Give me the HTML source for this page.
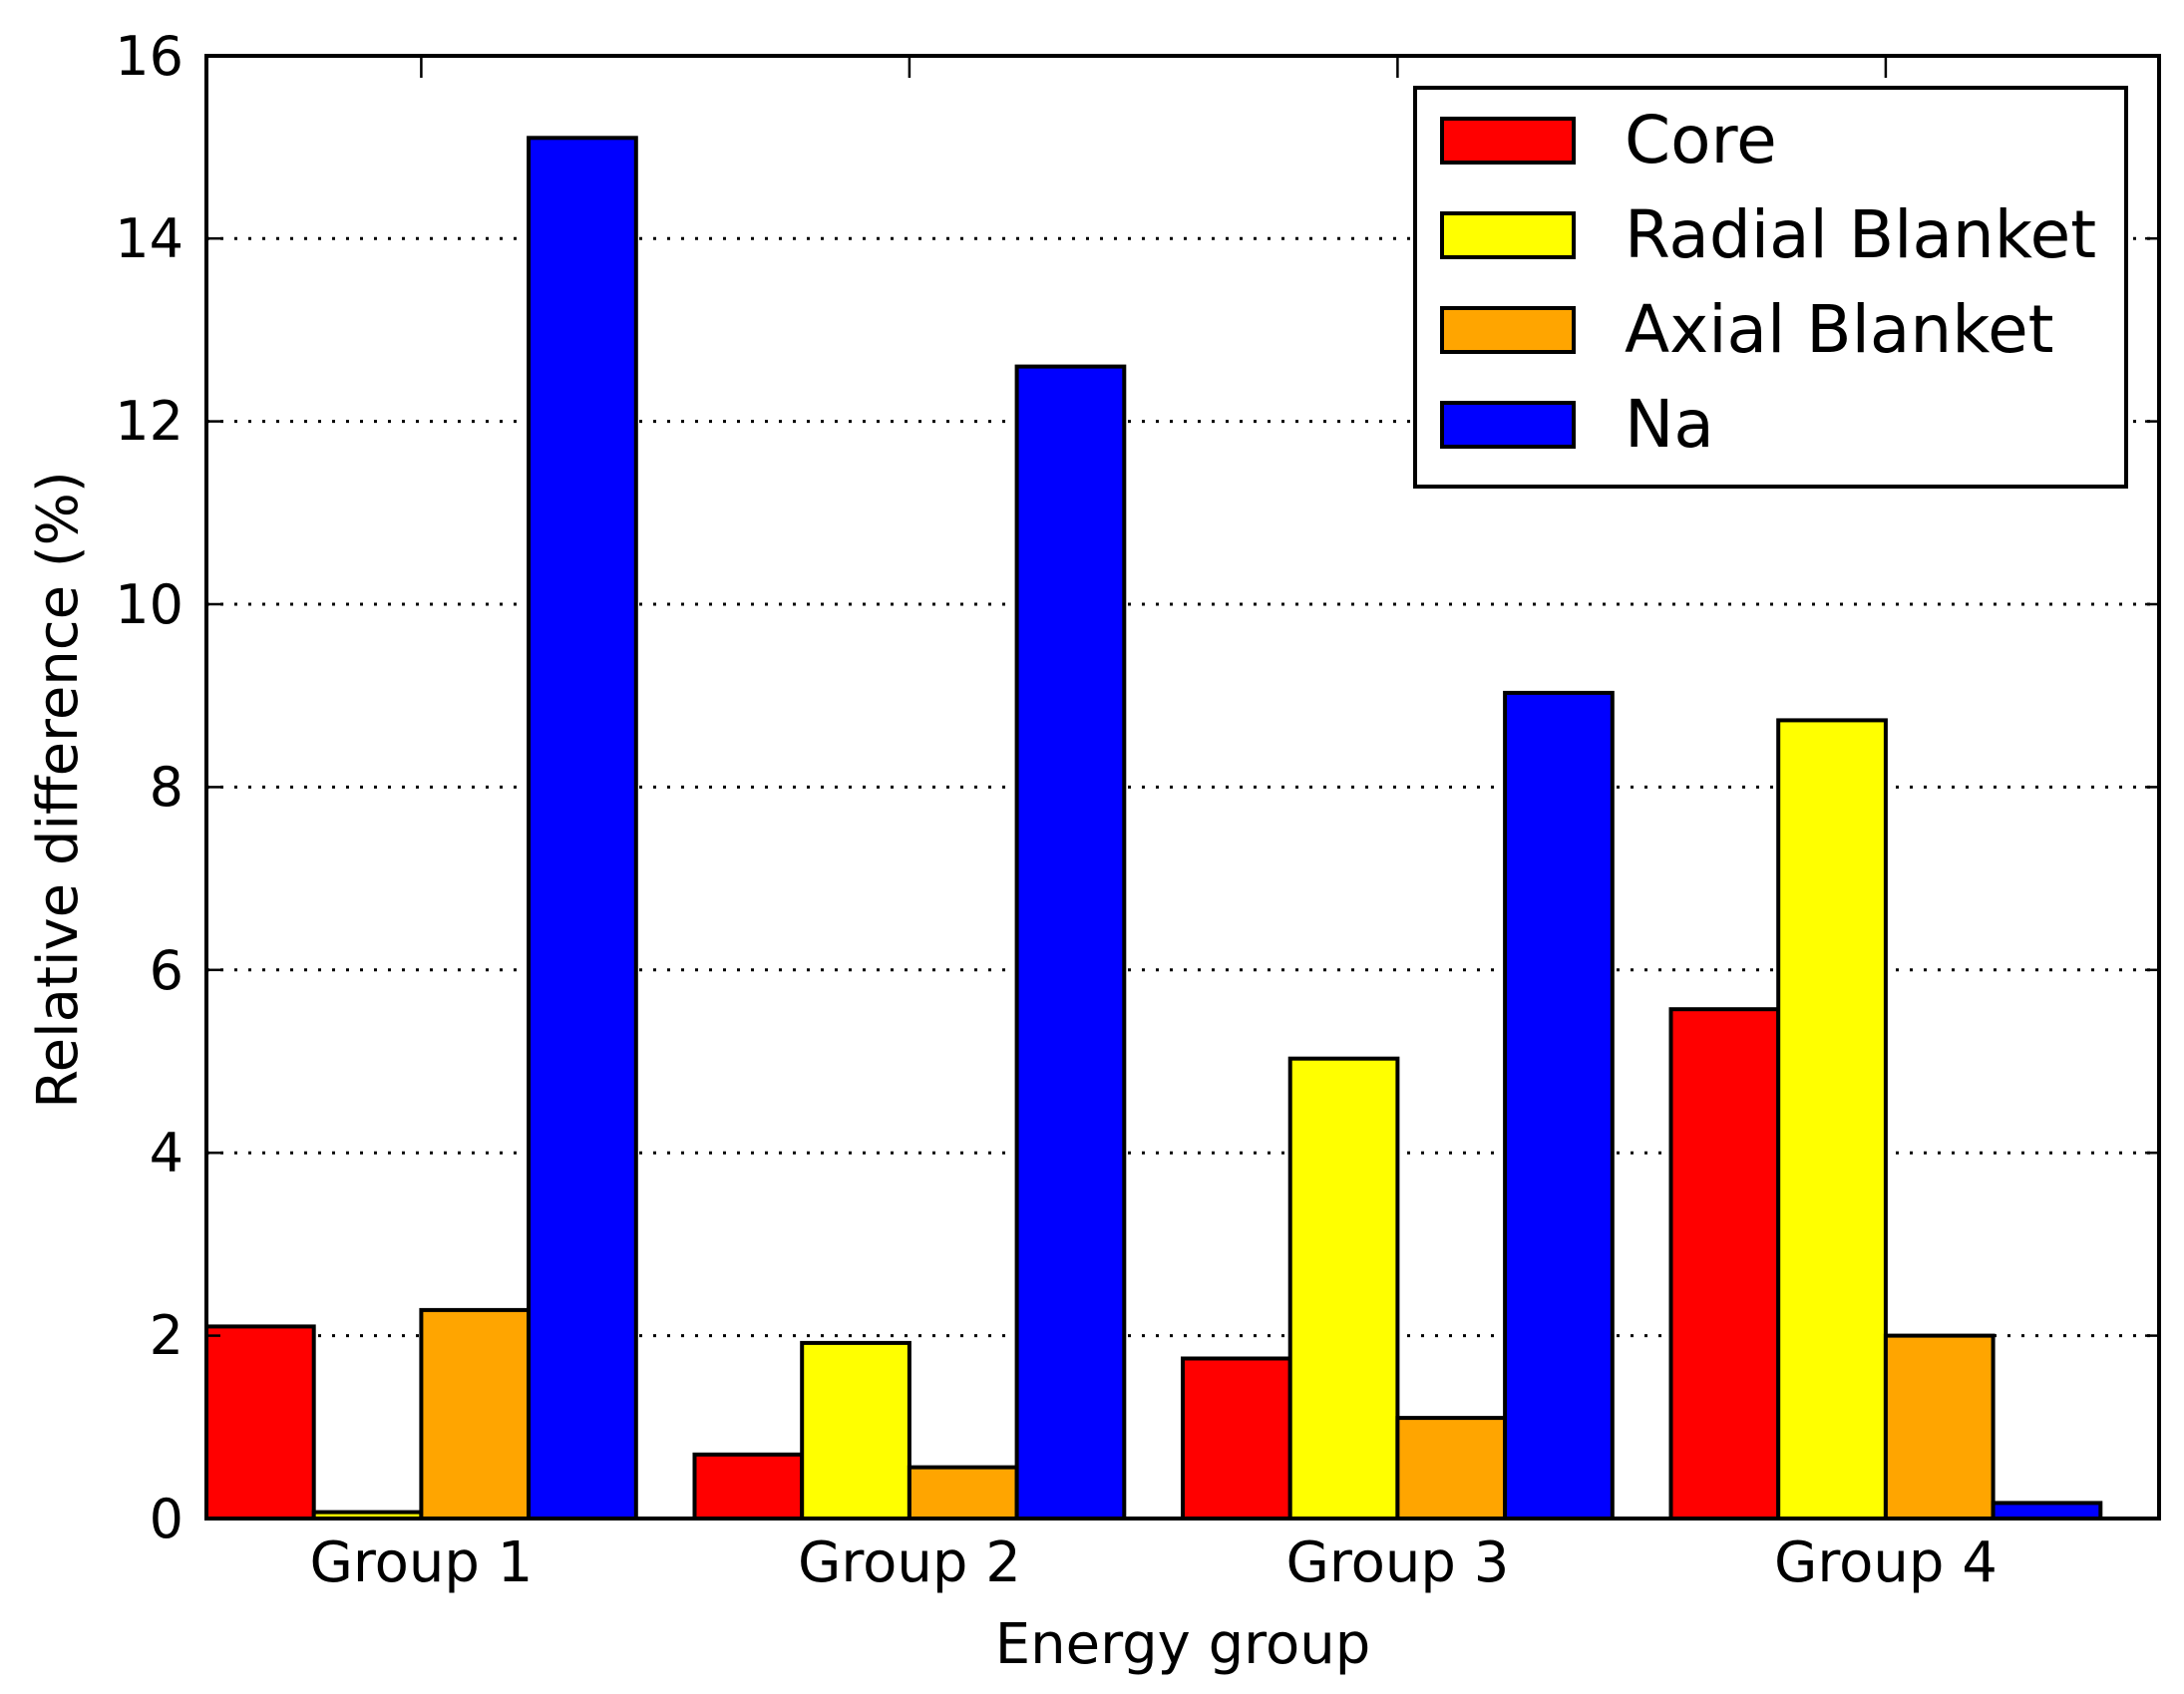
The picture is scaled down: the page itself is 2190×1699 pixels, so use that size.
<!DOCTYPE html>
<html><head><style>html,body{margin:0;padding:0;background:#fff}svg{display:block}</style></head>
<body>
<svg width="2190" height="1699" viewBox="0 0 2190 1699" xmlns="http://www.w3.org/2000/svg" font-family="'DejaVu Sans','Liberation Sans',sans-serif">
<rect width="2190" height="1699" fill="#fff"/>
<g stroke="#000" stroke-width="3" stroke-dasharray="3,11">
<line x1="207" x2="2165" y1="1339.6" y2="1339.6"/>
<line x1="207" x2="2165" y1="1156.2" y2="1156.2"/>
<line x1="207" x2="2165" y1="972.8" y2="972.8"/>
<line x1="207" x2="2165" y1="789.4" y2="789.4"/>
<line x1="207" x2="2165" y1="606" y2="606"/>
<line x1="207" x2="2165" y1="422.6" y2="422.6"/>
<line x1="207" x2="2165" y1="239.2" y2="239.2"/>
</g>
<g stroke="#000" stroke-width="4">
<rect x="207" y="1330.4" width="107.7" height="192.6" fill="#ff0000"/>
<rect x="314.7" y="1516.6" width="107.7" height="6.4" fill="#ffff00"/>
<rect x="422.4" y="1313.9" width="107.7" height="209.1" fill="#ffa500"/>
<rect x="530.1" y="138.3" width="107.7" height="1384.7" fill="#0000ff"/>
<rect x="696.5" y="1458.8" width="107.7" height="64.2" fill="#ff0000"/>
<rect x="804.2" y="1346.9" width="107.7" height="176.1" fill="#ffff00"/>
<rect x="911.9" y="1471.6" width="107.7" height="51.4" fill="#ffa500"/>
<rect x="1019.6" y="367.6" width="107.7" height="1155.4" fill="#0000ff"/>
<rect x="1186" y="1362.5" width="107.7" height="160.5" fill="#ff0000"/>
<rect x="1293.7" y="1061.7" width="107.7" height="461.3" fill="#ffff00"/>
<rect x="1401.4" y="1422.1" width="107.7" height="100.9" fill="#ffa500"/>
<rect x="1509.1" y="694.9" width="107.7" height="828.1" fill="#0000ff"/>
<rect x="1675.5" y="1012.2" width="107.7" height="510.8" fill="#ff0000"/>
<rect x="1783.2" y="722.4" width="107.7" height="800.6" fill="#ffff00"/>
<rect x="1890.9" y="1339.6" width="107.7" height="183.4" fill="#ffa500"/>
<rect x="1998.6" y="1507.4" width="107.7" height="15.6" fill="#0000ff"/>
</g>
<rect x="207" y="56" width="1958" height="1467" fill="none" stroke="#000" stroke-width="4"/>
<g stroke="#000" stroke-width="2.5">
<line x1="207" x2="221" y1="1339.6" y2="1339.6"/><line x1="2165" x2="2151" y1="1339.6" y2="1339.6"/>
<line x1="207" x2="221" y1="1156.2" y2="1156.2"/><line x1="2165" x2="2151" y1="1156.2" y2="1156.2"/>
<line x1="207" x2="221" y1="972.8" y2="972.8"/><line x1="2165" x2="2151" y1="972.8" y2="972.8"/>
<line x1="207" x2="221" y1="789.4" y2="789.4"/><line x1="2165" x2="2151" y1="789.4" y2="789.4"/>
<line x1="207" x2="221" y1="606" y2="606"/><line x1="2165" x2="2151" y1="606" y2="606"/>
<line x1="207" x2="221" y1="422.6" y2="422.6"/><line x1="2165" x2="2151" y1="422.6" y2="422.6"/>
<line x1="207" x2="221" y1="239.2" y2="239.2"/><line x1="2165" x2="2151" y1="239.2" y2="239.2"/>
<line x1="422.4" x2="422.4" y1="56" y2="78"/><line x1="422.4" x2="422.4" y1="1523" y2="1501"/>
<line x1="911.9" x2="911.9" y1="56" y2="78"/><line x1="911.9" x2="911.9" y1="1523" y2="1501"/>
<line x1="1401.4" x2="1401.4" y1="56" y2="78"/><line x1="1401.4" x2="1401.4" y1="1523" y2="1501"/>
<line x1="1890.9" x2="1890.9" y1="56" y2="78"/><line x1="1890.9" x2="1890.9" y1="1523" y2="1501"/>
</g>
<g font-size="54" text-anchor="end" fill="#000">
<text x="184" y="1542">0</text>
<text x="184" y="1358">2</text>
<text x="184" y="1175">4</text>
<text x="184" y="992">6</text>
<text x="184" y="808">8</text>
<text x="184" y="625">10</text>
<text x="184" y="441">12</text>
<text x="184" y="258">14</text>
<text x="184" y="75">16</text>
</g>
<g font-size="56" text-anchor="middle" fill="#000">
<text x="422.4" y="1586">Group 1</text>
<text x="911.9" y="1586">Group 2</text>
<text x="1401.4" y="1586">Group 3</text>
<text x="1890.9" y="1586">Group 4</text>
<text x="1186" y="1668">Energy group</text>
<text transform="translate(77,792) rotate(-90)">Relative difference (%)</text>
</g>
<rect x="1419" y="88" width="713" height="400" fill="#fff" stroke="#000" stroke-width="4"/>
<g stroke="#000" stroke-width="4">
<rect x="1446" y="119" width="132" height="44" fill="#ff0000"/>
<rect x="1446" y="214" width="132" height="44" fill="#ffff00"/>
<rect x="1446" y="309" width="132" height="44" fill="#ffa500"/>
<rect x="1446" y="404" width="132" height="44" fill="#0000ff"/>
</g>
<g font-size="66" fill="#000">
<text x="1629" y="163">Core</text>
<text x="1629" y="258">Radial Blanket</text>
<text x="1629" y="353">Axial Blanket</text>
<text x="1629" y="448">Na</text>
</g>
</svg>
</body></html>
